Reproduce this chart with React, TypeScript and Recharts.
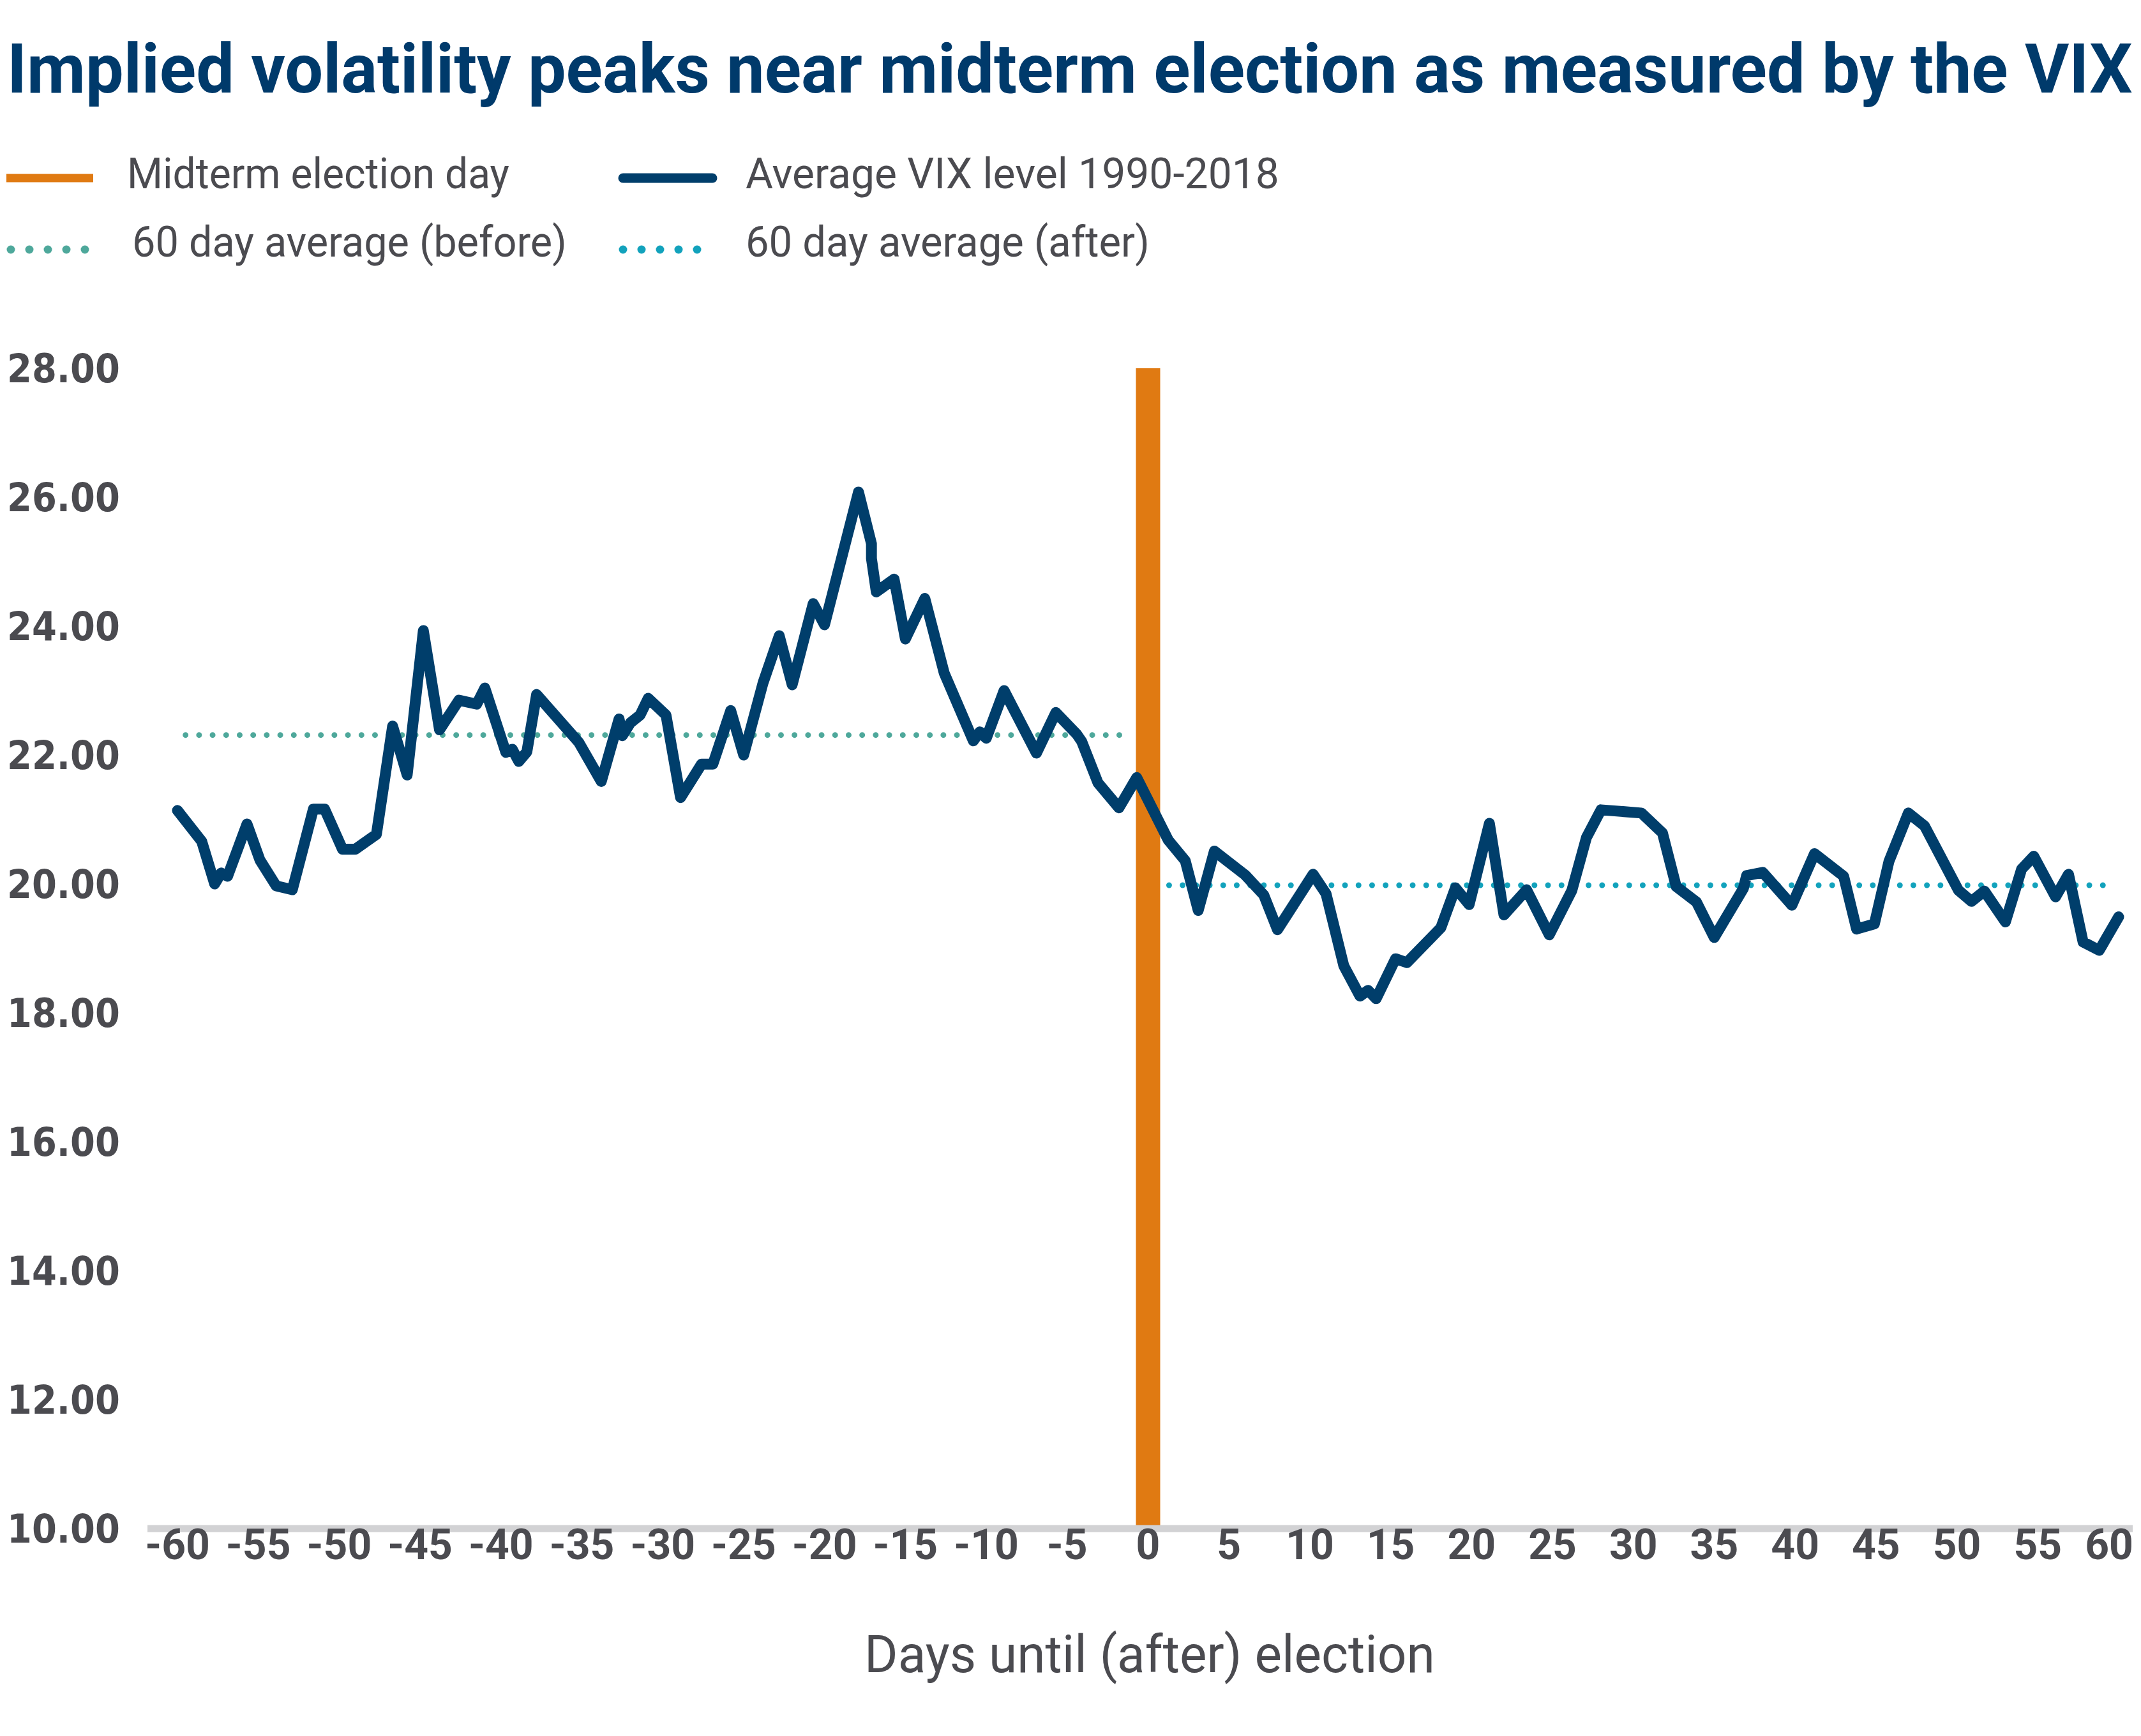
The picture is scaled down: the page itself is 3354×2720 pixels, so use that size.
import { useLayoutEffect, useRef, useState } from "react";
import { Line, LineChart, XAxis, YAxis } from "recharts";

// Average VIX level 1990-2018 around midterm elections
const days = [
  -60, -58.5, -57.7, -57.3, -56.9, -55.7, -54.9, -53.9, -52.9, -51.6, -50.9, -49.8, -49.0, -47.7,
  -46.7, -45.8, -44.8, -43.8, -42.6, -41.5, -41.0, -39.7, -39.3, -38.9, -38.4, -37.8, -35.2, -33.8,
  -32.7, -32.5, -32.0, -31.4, -30.9, -29.8, -28.9, -27.6, -26.9, -25.8, -25.0, -23.8, -22.8, -22.0,
  -20.7, -20.0, -17.9, -17.1, -17.1, -16.8, -15.7, -15.0, -13.8, -12.6, -10.8, -10.4, -10.0, -8.9,
  -6.9, -5.7, -4.4, -4.1, -3.1, -1.8, -0.7, 1.25, 2.3, 3.1, 4.1, 6.0, 7.15, 8.0, 10.2, 11.0, 12.1,
  13.1, 13.6, 14.1, 15.3, 16.0, 18.1, 19.0, 19.85, 21.1, 22.0, 23.4, 24.8, 26.2, 27.1, 28.0, 30.5,
  31.8, 32.65, 33.9, 35.0, 36.8, 37.0, 38.0, 39.8, 41.2, 43.0, 43.8, 44.9, 45.8, 47.0, 48.0, 50.1,
  50.9, 51.7, 53.0, 54.0, 54.75, 56.1, 56.9, 57.8, 58.8, 60.0,
];

const vix = [
  21.14, 20.66, 20.0, 20.17, 20.12, 20.93, 20.37, 19.97, 19.91, 21.16, 21.16, 20.54, 20.54, 20.77,
  22.45, 21.69, 23.93, 22.39, 22.85, 22.79, 23.04, 22.04, 22.09, 21.9, 22.05, 22.94, 22.2, 21.59,
  22.56, 22.3, 22.5, 22.62, 22.88, 22.62, 21.34, 21.86, 21.86, 22.69, 22.0, 23.12, 23.85, 23.09,
  24.35, 24.02, 26.08, 25.28, 25.05, 24.53, 24.73, 23.8, 24.43, 23.27, 22.22, 22.36, 22.26, 23.0,
  22.03, 22.66, 22.32, 22.21, 21.57, 21.18, 21.65, 20.68, 20.36, 19.59, 20.51, 20.14, 19.83, 19.29,
  20.15, 19.85, 18.73, 18.26, 18.35, 18.22, 18.84, 18.78, 19.32, 19.94, 19.68, 20.94, 19.52, 19.91,
  19.21, 19.9, 20.72, 21.15, 21.1, 20.79, 19.96, 19.72, 19.17, 19.93, 20.13, 20.18, 19.67, 20.47,
  20.12, 19.3, 19.38, 20.35, 21.1, 20.9, 19.9, 19.73, 19.89, 19.41, 20.23, 20.43, 19.8, 20.15,
  19.1, 18.97, 19.49,
];

// 60 day averages and election day marker
const beforeAvgDays = [-59.5, -1.2];
const beforeAvg = 22.31;
const afterAvgDays = [1.3, 59.6];
const afterAvg = 19.98;
const electionDay = 0;
const electionSpan = [10, 28];

const xTicks = [-60, -55, -50, -45, -40, -35, -30, -25, -20, -15, -10, -5, 0, 5, 10, 15, 20, 25, 30, 35, 40, 45, 50, 55, 60];
const yTicks = [10, 12, 14, 16, 18, 20, 22, 24, 26, 28];

const NAVY = "#003e6b";
const ORANGE = "#e07a12";
const TEAL = "#4ea89b";
const CYAN = "#12a2bc";
const TEXT = "#4b4b50";
const AXIS = "#d2d2d4";

const vixData = days.map((day, i) => ({ day, v: vix[i] }));
const beforeData = beforeAvgDays.map((day) => ({ day, v: beforeAvg }));
const afterData = afterAvgDays.map((day) => ({ day, v: afterAvg }));
const electionData = electionSpan.map((v) => ({ day: electionDay, v }));

const legendItems = [
  { label: "Midterm election day", color: ORANGE, kind: "bar", x: 10, y: 279, tx: 199, ty: 295, tw: 599 },
  { label: "Average VIX level 1990-2018", color: NAVY, kind: "line", x: 969, y: 279, tx: 1168, ty: 295, tw: 836 },
  { label: "60 day average (before)", color: TEAL, kind: "dots", x: 10, y: 391, tx: 207, ty: 402, tw: 681 },
  { label: "60 day average (after)", color: CYAN, kind: "dots", x: 969, y: 391, tx: 1168, ty: 402, tw: 633 },
];

// squeezes a text horizontally so that it covers the given width
function FitText({ x, y, width, children, ...rest }: any) {
  const ref = useRef<SVGTextElement>(null);
  const [sx, setSx] = useState(1);
  useLayoutEffect(() => {
    const w = ref.current ? ref.current.getComputedTextLength() : 0;
    if (w > 0) setSx(width / w);
  }, [width]);
  return (
    <text ref={ref} x={0} y={0} transform={`translate(${x},${y}) scale(${sx},1)`} {...rest}>
      {children}
    </text>
  );
}

function XTick(props: any) {
  const { x, y, payload } = props;
  return (
    <text
      x={Math.min(x, 3304)}
      y={y + 40}
      textAnchor="middle"
      fill={TEXT}
      fontFamily="Roboto, sans-serif"
      fontWeight={700}
      fontSize={66}
    >
      {payload.value}
    </text>
  );
}

function YTick(props: any) {
  const { y, payload } = props;
  return (
    <text
      x={11}
      y={y + 22}
      fill={TEXT}
      fontFamily="'DejaVu Sans', sans-serif"
      fontWeight={700}
      fontSize={62}
      textLength={177}
      lengthAdjust="spacingAndGlyphs"
    >
      {payload.value.toFixed(2)}
    </text>
  );
}

function Overlay() {
  return (
    <svg
      width={3354}
      height={2720}
      style={{ position: "absolute", left: 0, top: 0, pointerEvents: "none" }}
    >
      <FitText
        x={11}
        y={145}
        width={3330}
        fill="#003a6b"
        fontFamily="Roboto, sans-serif"
        fontWeight={700}
        fontSize={108}
      >
        Implied volatility peaks near midterm election as measured by the VIX
      </FitText>
      {legendItems.map((item) => (
        <g key={item.label}>
          {item.kind === "bar" && (
            <line x1={item.x} x2={item.x + 136} y1={item.y} y2={item.y} stroke={item.color} strokeWidth={13} />
          )}
          {item.kind === "line" && (
            <line
              x1={item.x + 7}
              x2={item.x + 147}
              y1={item.y}
              y2={item.y}
              stroke={item.color}
              strokeWidth={15}
              strokeLinecap="round"
            />
          )}
          {item.kind === "dots" && (
            <line
              x1={item.x + 7}
              x2={item.x + 152}
              y1={item.y}
              y2={item.y}
              stroke={item.color}
              strokeWidth={13}
              strokeLinecap="round"
              strokeDasharray="0 29"
            />
          )}
          <FitText x={item.tx} y={item.ty} width={item.tw} fill={TEXT} fontFamily="Roboto, sans-serif" fontSize={66}>
            {item.label}
          </FitText>
        </g>
      ))}
      <FitText x={1354} y={2620} width={894} fill={TEXT} fontFamily="Roboto, sans-serif" fontSize={82}>
        Days until (after) election
      </FitText>
    </svg>
  );
}

export default function App() {
  return (
    <div style={{ position: "absolute", left: 0, top: 0, width: 3354, height: 2720, background: "#fff" }}>
      <LineChart width={3354} height={2720} margin={{ top: 577, right: 13, bottom: 125, left: 11 }}>
        <XAxis
          dataKey="day"
          type="number"
          domain={[-60, 60]}
          ticks={xTicks}
          interval={0}
          padding={{ left: 47, right: 22 }}
          height={200}
          axisLine={{ stroke: AXIS, strokeWidth: 11 }}
          tickLine={false}
          tick={<XTick />}
        />
        <YAxis
          type="number"
          domain={[10, 28]}
          ticks={yTicks}
          interval={0}
          width={220}
          axisLine={false}
          tickLine={false}
          tick={<YTick />}
        />
        <Line
          data={electionData}
          dataKey="v"
          stroke={ORANGE}
          strokeWidth={38}
          strokeLinecap="butt"
          dot={false}
          activeDot={false}
          isAnimationActive={false}
        />
        <Line
          data={beforeData}
          dataKey="v"
          stroke={TEAL}
          strokeWidth={9}
          strokeLinecap="round"
          strokeDasharray="0 21.2"
          dot={false}
          activeDot={false}
          isAnimationActive={false}
        />
        <Line
          data={afterData}
          dataKey="v"
          stroke={CYAN}
          strokeWidth={9}
          strokeLinecap="round"
          strokeDasharray="0 21.2"
          dot={false}
          activeDot={false}
          isAnimationActive={false}
        />
        <Line
          data={vixData}
          dataKey="v"
          type="linear"
          stroke={NAVY}
          strokeWidth={17}
          strokeLinejoin="round"
          strokeLinecap="round"
          dot={false}
          activeDot={false}
          isAnimationActive={false}
        />
      </LineChart>
      <Overlay />
    </div>
  );
}
